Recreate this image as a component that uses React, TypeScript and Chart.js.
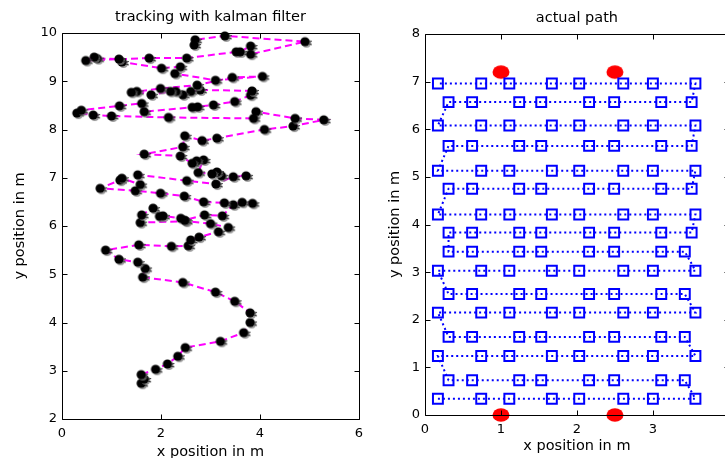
import React, { useEffect, useRef } from 'react';
import { Chart, registerables } from 'chart.js';

Chart.register(...registerables);

// ---- Left panel: tracking with kalman filter (estimated track) ----
const trackX = [
  1.60, 1.66, 1.60, 1.89, 2.13, 2.34, 2.49, 3.20, 3.67, 3.80,
  3.80, 3.49, 3.10, 2.44, 1.63, 1.68, 1.53, 1.15, 0.88, 1.55,
  2.21, 2.55, 2.60, 2.77, 3.16, 3.36, 3.00, 2.50, 1.58, 1.61,
  1.84, 1.97, 2.04, 2.40, 2.48, 2.88, 3.24, 3.46, 3.64, 3.85,
  3.28, 2.86, 2.47, 1.99, 1.48, 0.77, 1.17, 1.21, 1.58, 1.53,
  2.52, 3.11, 3.46, 3.72, 3.22, 3.13, 3.03, 2.75, 2.86, 2.72,
  2.63, 2.39, 1.66, 2.44, 2.48, 2.83, 3.13, 4.09, 4.67, 5.29,
  4.71, 3.92, 3.87, 2.15, 1.00, 0.63, 0.30, 0.39, 1.16, 1.61,
  1.66, 2.63, 2.74, 3.06, 3.49, 3.81, 3.84, 2.79, 2.60, 2.44,
  2.30, 2.19, 1.80, 1.51, 1.40, 1.99, 2.73, 3.44, 4.05, 3.10,
  2.28, 2.39, 2.01, 1.21, 1.15, 0.71, 0.65, 0.48, 1.76, 2.52,
  3.52, 3.60, 3.81, 3.81, 4.91, 3.29, 2.69, 2.67,
];
const trackY = [
  2.74, 2.83, 2.92, 3.03, 3.14, 3.30, 3.48, 3.61, 3.79, 4.00,
  4.20, 4.44, 4.63, 4.83, 4.94, 5.12, 5.25, 5.31, 5.50, 5.61,
  5.58, 5.59, 5.71, 5.77, 5.88, 5.97, 6.05, 6.10, 6.07, 6.23,
  6.37, 6.20, 6.21, 6.16, 6.12, 6.23, 6.21, 6.44, 6.49, 6.47,
  6.48, 6.50, 6.62, 6.68, 6.73, 6.78, 6.95, 6.99, 6.86, 7.06,
  6.94, 6.87, 7.02, 7.04, 7.04, 7.12, 7.08, 7.11, 7.37, 7.35,
  7.30, 7.45, 7.49, 7.64, 7.87, 7.77, 7.82, 8.00, 8.07, 8.20,
  8.23, 8.37, 8.23, 8.25, 8.28, 8.30, 8.34, 8.40, 8.49, 8.54,
  8.37, 8.46, 8.47, 8.51, 8.58, 8.71, 8.80, 8.82, 8.79, 8.72,
  8.79, 8.79, 8.72, 8.79, 8.77, 8.85, 8.92, 9.08, 9.10, 9.02,
  9.16, 9.30, 9.27, 9.40, 9.46, 9.47, 9.50, 9.43, 9.48, 9.48,
  9.61, 9.61, 9.73, 9.56, 9.82, 9.94, 9.86, 9.75,
];
const leftXTicks = [0, 2, 4, 6];
const leftYTicks = [2, 3, 4, 5, 6, 7, 8, 9, 10];

// ---- Right panel: actual path (one row per line) ----
const pathX = [
  0.17, 0.74, 1.11, 1.67, 2.03, 2.61, 3.00, 3.56,
  3.42, 3.11, 2.49, 2.16, 1.53, 1.24, 0.62, 0.31,
  0.17, 0.74, 1.11, 1.67, 2.03, 2.61, 3.00, 3.56,
  3.42, 3.11, 2.49, 2.16, 1.53, 1.24, 0.62, 0.31,
  0.17, 0.74, 1.11, 1.67, 2.03, 2.61, 3.00, 3.56,
  3.42, 3.11, 2.49, 2.16, 1.53, 1.24, 0.62, 0.31,
  0.17, 0.74, 1.11, 1.67, 2.03, 2.61, 3.00, 3.56,
  3.42, 3.11, 2.49, 2.16, 1.53, 1.24, 0.62, 0.31,
  0.31, 0.62, 1.24, 1.53, 2.16, 2.49, 3.11, 3.51,
  3.56, 3.00, 2.61, 2.03, 1.67, 1.11, 0.74, 0.17,
  0.31, 0.62, 1.24, 1.53, 2.16, 2.49, 3.11, 3.51,
  3.56, 3.00, 2.61, 2.03, 1.67, 1.11, 0.74, 0.17,
  0.31, 0.62, 1.24, 1.53, 2.16, 2.49, 3.11, 3.51,
  3.56, 3.00, 2.61, 2.03, 1.67, 1.11, 0.74, 0.17,
  0.31, 0.62, 1.24, 1.53, 2.16, 2.49, 3.11, 3.51,
  3.56, 3.00, 2.61, 2.03, 1.67, 1.11, 0.74, 0.17,
];
const pathY = [
  0.34, 0.34, 0.34, 0.34, 0.34, 0.34, 0.34, 0.34,
  0.73, 0.73, 0.73, 0.73, 0.73, 0.73, 0.73, 0.73,
  1.24, 1.24, 1.24, 1.24, 1.24, 1.24, 1.24, 1.24,
  1.64, 1.64, 1.64, 1.64, 1.64, 1.64, 1.64, 1.64,
  2.15, 2.15, 2.15, 2.15, 2.15, 2.15, 2.15, 2.15,
  2.54, 2.54, 2.54, 2.54, 2.54, 2.54, 2.54, 2.54,
  3.03, 3.03, 3.03, 3.03, 3.03, 3.03, 3.03, 3.03,
  3.43, 3.43, 3.43, 3.43, 3.43, 3.43, 3.43, 3.43,
  3.83, 3.83, 3.83, 3.83, 3.83, 3.83, 3.83, 3.83,
  4.21, 4.21, 4.21, 4.21, 4.21, 4.21, 4.21, 4.21,
  4.75, 4.75, 4.75, 4.75, 4.75, 4.75, 4.75, 4.75,
  5.13, 5.13, 5.13, 5.13, 5.13, 5.13, 5.13, 5.13,
  5.65, 5.65, 5.65, 5.65, 5.65, 5.65, 5.65, 5.65,
  6.08, 6.08, 6.08, 6.08, 6.08, 6.08, 6.08, 6.08,
  6.57, 6.57, 6.57, 6.57, 6.57, 6.57, 6.57, 6.57,
  6.96, 6.96, 6.96, 6.96, 6.96, 6.96, 6.96, 6.96,
];
const sensorX = [1.0, 2.5, 1.0, 2.5];
const sensorY = [7.2, 7.2, 0.0, 0.0];
const rightXTicks = [0, 1, 2, 3, 4];
const rightYTicks = [0, 1, 2, 3, 4, 5, 6, 7, 8];

const FONT = "'DejaVu Sans', sans-serif";

function toPoints(xs: number[], ys: number[]) {
  return xs.map((x, i) => ({ x, y: ys[i] }));
}

function makeTrackMarker(): HTMLCanvasElement {
  const c = document.createElement('canvas');
  c.width = 20;
  c.height = 20;
  const g = c.getContext('2d')!;
  g.fillStyle = 'rgba(120,120,120,0.75)';
  g.beginPath();
  g.arc(11.6, 11.4, 4.6, 0, Math.PI * 2);
  g.fill();
  g.strokeStyle = '#333';
  g.lineWidth = 1;
  g.beginPath();
  g.moveTo(12, 10.5);
  g.lineTo(17, 9.5);
  g.moveTo(12, 11.5);
  g.lineTo(17, 13);
  g.stroke();
  g.fillStyle = '#000';
  g.beginPath();
  g.arc(10, 10, 4.6, 0, Math.PI * 2);
  g.fill();
  return c;
}

function makeSensorMarker(): HTMLCanvasElement {
  const c = document.createElement('canvas');
  c.width = 20;
  c.height = 16;
  const g = c.getContext('2d')!;
  g.fillStyle = '#FF0000';
  g.beginPath();
  g.ellipse(10, 8, 8.5, 6.8, 0, 0, Math.PI * 2);
  g.fill();
  return c;
}

const matlabBox = {
  id: 'matlabBox',
  afterDraw(chart: any) {
    const { ctx, chartArea: a, scales } = chart;
    const xs = scales.x;
    const ys = scales.y;
    const L = 5;
    ctx.save();
    ctx.strokeStyle = '#000';
    ctx.lineWidth = 1;
    const l = Math.round(a.left) + 0.5;
    const r = Math.round(a.right) + 0.5;
    const t = Math.round(a.top) + 0.5;
    const b = Math.round(a.bottom) + 0.5;
    ctx.beginPath();
    ctx.moveTo(l, t);
    ctx.lineTo(r, t);
    ctx.lineTo(r, b);
    ctx.lineTo(l, b);
    ctx.closePath();
    xs.ticks.forEach((tk: any) => {
      const x = Math.round(xs.getPixelForValue(tk.value)) + 0.5;
      ctx.moveTo(x, b);
      ctx.lineTo(x, b - L);
      ctx.moveTo(x, t);
      ctx.lineTo(x, t + L);
    });
    ys.ticks.forEach((tk: any) => {
      const y = Math.round(ys.getPixelForValue(tk.value)) + 0.5;
      ctx.moveTo(l, y);
      ctx.lineTo(l + L, y);
      ctx.moveTo(r, y);
      ctx.lineTo(r - L, y);
    });
    ctx.stroke();
    ctx.restore();
  },
};

function axis(
  min: number,
  max: number,
  ticks: number[],
  title: string,
  fit: (s: any) => void,
  titlePad: any,
  labelPad: number
) {
  return {
    type: 'linear',
    min,
    max,
    afterFit: fit,
    afterBuildTicks: (s: any) => {
      s.ticks = ticks.map((v) => ({ value: v }));
    },
    grid: { display: false, drawTicks: false },
    border: { display: false },
    ticks: {
      color: '#000',
      font: { family: FONT, size: 13 },
      padding: labelPad,
      maxRotation: 0,
      autoSkip: false,
      callback: (v: any) => String(v),
    },
    title: {
      display: true,
      text: title,
      color: '#000',
      font: { family: FONT, size: 14.5 },
      padding: titlePad,
    },
  };
}

export default function App() {
  const leftRef = useRef<HTMLCanvasElement | null>(null);
  const rightRef = useRef<HTMLCanvasElement | null>(null);

  useEffect(() => {
    const trackMarker = makeTrackMarker();
    const sensorMarker = makeSensorMarker();

    const left = new Chart(leftRef.current!, {
      type: 'scatter',
      data: {
        datasets: [
          {
            data: toPoints(trackX, trackY),
            showLine: true,
            borderColor: '#FF00FF',
            borderWidth: 2,
            borderDash: [7, 4],
            pointStyle: trackMarker as any,
            pointRadius: 5,
            clip: false as any,
          },
        ],
      },
      options: {
        animation: false,
        responsive: false,
        devicePixelRatio: 1,
        layout: { padding: { left: 0, right: 5, top: 0, bottom: 0 } },
        plugins: {
          legend: { display: false },
          tooltip: { enabled: false },
          title: {
            display: true,
            fullSize: false,
            text: 'tracking with kalman filter',
            color: '#000',
            font: { family: FONT, size: 14.5, weight: 'normal' },
            padding: { top: 9, bottom: 6.6 },
          },
        },
        scales: {
          x: axis(0, 6, leftXTicks, 'x position in m', (s: any) => { s.height = 39; }, { top: 0, bottom: -2.5 }, 7),
          y: axis(2, 10, leftYTicks, 'y position in m', (s: any) => { s.width = 62; }, { top: 11.3, bottom: 0 }, 5),
        } as any,
      },
      plugins: [matlabBox],
    } as any);

    const right = new Chart(rightRef.current!, {
      type: 'scatter',
      data: {
        datasets: [
          {
            data: toPoints(pathX, pathY),
            showLine: true,
            borderColor: '#0000FF',
            borderWidth: 2,
            borderDash: [2, 3],
            pointStyle: 'rect',
            pointRadius: 7,
            pointBorderWidth: 2,
            pointBorderColor: '#0000FF',
            pointBackgroundColor: 'rgba(0,0,0,0)',
            clip: false as any,
          },
          {
            data: toPoints(sensorX, sensorY),
            showLine: false,
            pointStyle: sensorMarker as any,
            pointRadius: 8,
            clip: false as any,
          },
        ],
      },
      options: {
        animation: false,
        responsive: false,
        devicePixelRatio: 1,
        layout: { padding: { left: 0, right: 8.3, top: 0, bottom: 0 } },
        plugins: {
          legend: { display: false },
          tooltip: { enabled: false },
          title: {
            display: true,
            fullSize: false,
            text: 'actual path',
            color: '#000',
            font: { family: FONT, size: 14.5, weight: 'normal' },
            padding: { top: 9.6, bottom: 7 },
          },
        },
        scales: {
          x: axis(0, 4, rightXTicks, 'x position in m', (s: any) => { s.height = 43; }, { top: 0, bottom: 2.6 }, 7),
          y: axis(0, 8, rightYTicks, 'y position in m', (s: any) => { s.width = 55; }, { top: 16.3, bottom: 0 }, 5),
        } as any,
      },
      plugins: [matlabBox],
    } as any);

    return () => {
      left.destroy();
      right.destroy();
    };
  }, []);

  return (
    <div
      style={{
        position: 'fixed',
        left: 0,
        top: 0,
        width: 725,
        height: 458,
        overflow: 'hidden',
        background: '#fff',
      }}
    >
      <canvas
        ref={leftRef}
        width={370}
        height={458}
        style={{ position: 'absolute', left: 0, top: 0 }}
      />
      <canvas
        ref={rightRef}
        width={370}
        height={458}
        style={{ position: 'absolute', left: 370, top: 0 }}
      />
    </div>
  );
}
